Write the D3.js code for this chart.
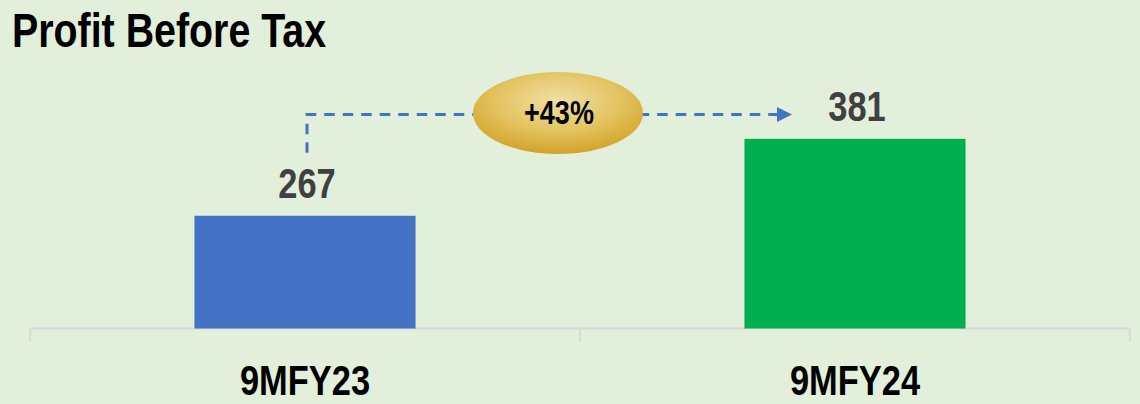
<!DOCTYPE html>
<html>
<head>
<meta charset="utf-8">
<script src="https://cdn.jsdelivr.net/npm/d3@7"></script>
<style>
  html, body { margin: 0; padding: 0; background: #e2efda; }
  svg { display: block; }
</style>
</head>
<body>
<svg id="chart" width="1140" height="404"></svg>
<script>
// Profit before tax by period
const categories = ["9MFY23", "9MFY24"];
const values = [267, 381];
const barColors = ["#4472c4", "#00b050"];
const growthLabel = "+43%";
const titleText = "Profit Before Tax";

const svg = d3.select("#chart");

// Pick a narrow sans face when present, otherwise squeeze the regular one
function hasFont(name) {
  const c = document.createElement("canvas").getContext("2d");
  c.font = "40px monospace";
  const base = c.measureText("9MFY23 Profit").width;
  c.font = `40px "${name}", monospace`;
  return c.measureText("9MFY23 Profit").width !== base;
}
const narrow = hasFont("Liberation Sans Narrow");
const FONT = narrow ? '"Liberation Sans Narrow", "Arial Narrow", sans-serif' : '"Liberation Sans", Arial, sans-serif';
const squeeze = narrow ? 1 : 0.82;

function narrowText(sel, x, y, anchor) {
  sel.attr("transform", `translate(${x},${y}) scale(${squeeze},1)`)
     .attr("text-anchor", anchor)
     .attr("font-family", FONT)
     .attr("font-weight", "bold");
  return sel;
}

// Scales
const x = d3.scaleBand().domain(categories).range([30, 1130]).padding(0);
const y = d3.scaleLinear().domain([100, 500]).range([328.5, 58.5]);
const barW = x.bandwidth() * 0.402;

// Title
narrowText(svg.append("text"), 12, 47, "start")
  .attr("font-size", 48).attr("fill", "#000").text(titleText);

// Axis line with band-boundary ticks
const axisY = y(100);
const ax = svg.append("g").attr("stroke", "#d9d9d9").attr("stroke-width", 2).attr("fill", "none");
ax.append("line").attr("x1", x.range()[0]).attr("x2", x.range()[1]).attr("y1", axisY).attr("y2", axisY);
const bounds = categories.map(c => x(c)).concat([x(categories[categories.length - 1]) + x.bandwidth()]);
ax.selectAll("line.tick").data(bounds).join("line").attr("class", "tick")
  .attr("x1", d => d).attr("x2", d => d).attr("y1", axisY).attr("y2", axisY + 13);

// Bars
svg.selectAll("rect.bar").data(values).join("rect").attr("class", "bar")
  .attr("x", (d, i) => x(categories[i]) + x.bandwidth() / 2 - barW / 2)
  .attr("width", barW)
  .attr("y", d => y(d))
  .attr("height", d => axisY - y(d))
  .attr("fill", (d, i) => barColors[i]);

// Value labels
svg.selectAll("text.val").data(values).join("text").attr("class", "val")
  .each(function(d, i) {
    narrowText(d3.select(this), x(categories[i]) + x.bandwidth() / 2 + 2, y(d) - 18, "middle");
  })
  .attr("font-size", 42).attr("fill", "#404040").text(d => d);

// Category labels
svg.selectAll("text.cat").data(categories).join("text").attr("class", "cat")
  .each(function(d) {
    narrowText(d3.select(this), x(d) + x.bandwidth() / 2, 395, "middle");
  })
  .attr("font-size", 42).attr("fill", "#000").text(d => d);

// Growth connector: dashed elbow from the first bar towards the second
const defs = svg.append("defs");
const x0 = x(categories[0]) + x.bandwidth() / 2 + 2;
const x1 = x(categories[1]) + x.bandwidth() / 2 - 63;
const lineY = 114.5;
const startY = y(values[0]) - 63;
svg.append("path")
  .attr("d", `M${x0},${startY} L${x0},${lineY} L${x1 - 14},${lineY}`)
  .attr("fill", "none").attr("stroke", "#4472c4").attr("stroke-width", 3)
  .attr("stroke-dasharray", "10.5,8");
svg.append("path")
  .attr("d", `M${x1 - 15},${lineY - 7.5} L${x1},${lineY} L${x1 - 15},${lineY + 7.5} Z`)
  .attr("fill", "#4472c4");

// Gold badge with the growth figure
const grad = defs.append("radialGradient").attr("id", "gold")
  .attr("cx", "50%").attr("cy", "35%").attr("r", "65%");
grad.append("stop").attr("offset", "0%").attr("stop-color", "#f1dfa4");
grad.append("stop").attr("offset", "55%").attr("stop-color", "#e4c462");
grad.append("stop").attr("offset", "100%").attr("stop-color", "#d2a329");

svg.append("ellipse").attr("cx", 558).attr("cy", 113).attr("rx", 85).attr("ry", 41)
  .attr("fill", "url(#gold)");
narrowText(svg.append("text"), 559, 124, "middle")
  .attr("font-size", 33).attr("fill", "#000").text(growthLabel);
</script>
</body>
</html>
